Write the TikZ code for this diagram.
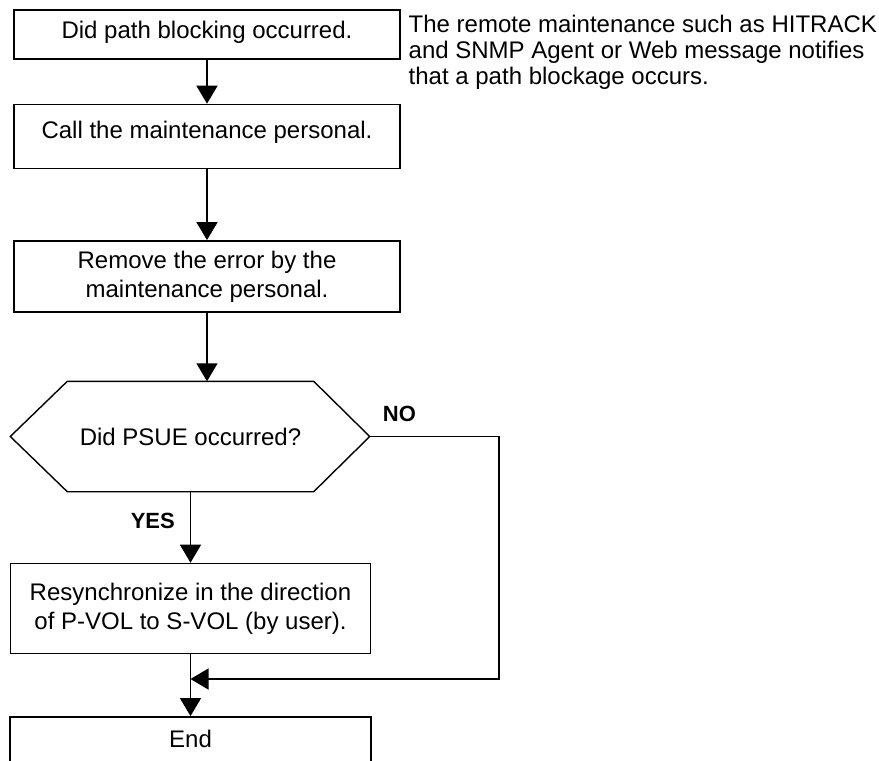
\documentclass[tikz,border=0pt]{standalone}
\usepackage{fontspec}
\setmainfont{Liberation Sans}
\usetikzlibrary{positioning,arrows.meta,calc}

\begin{document}
\begin{tikzpicture}[x=1pt,y=-1pt,node distance=44pt,line width=1.4pt,
    every node/.style={font=\fontsize{24}{29}\selectfont,inner sep=0pt},
    box/.style={draw,minimum width=386pt},
    lbl/.style={font=\fontsize{22}{24}\selectfont\bfseries},
    arr/.style={-{Triangle[length=18pt,width=21pt]}}]
  \useasboundingbox (0,0) rectangle (879,761);
  \node[box,text height=28pt,text depth=21pt] (blk) at (207,34.5) {Did path blocking occurred.};
  \node[box,below=of blk,text height=34pt,text depth=30pt] (call) {Call the maintenance personal.};
  \node[box,below=71pt of call,minimum height=71pt,align=center] (rmv) {Remove the error by the\\maintenance personal.};
  \node[anchor=north west,align=left,font=\fontsize{24}{26}\selectfont] (note) at (408,14)
    {The remote maintenance such as HITRACK\\and SNMP Agent or Web message notifies\\that a path blockage occurs.};
  % decision
  \node[minimum width=245pt,minimum height=109pt] (psue) at (190.5,436.5) {Did PSUE occurred?};
  \coordinate (psueR) at ($(psue.east)+(56,0)$);
  \coordinate (psueL) at ($(psue.west)+(-57,0)$);
  \draw (psue.north west) -- (psue.north east) -- (psueR) -- (psue.south east)
        -- (psue.south west) -- (psueL) -- cycle;
  \node[box,minimum width=360pt,minimum height=90pt,align=center,below=71pt of psue] (sync)
    {Resynchronize in the direction\\of P-VOL to S-VOL (by user).};
  \node[box,minimum width=361pt,below=62pt of sync,text height=31pt,text depth=30pt] (fin) {End};
  % connectors
  \draw[arr] (blk) -- (call);
  \draw[arr] (call) -- (rmv);
  \draw[arr] (rmv.south) -- (rmv.south |- psue.north);
  \draw[arr] (psue) -- node[lbl,pos=0.41,left=15pt] (yes) {YES} (sync);
  \coordinate (noC) at (499,679);
  \draw[arr] (psueR) -| node[lbl,pos=0.115,above=14pt] (no) {NO} (noC) -- (noC -| sync.south);
  \draw[arr] (sync) -- (fin);
\end{tikzpicture}
\end{document}
